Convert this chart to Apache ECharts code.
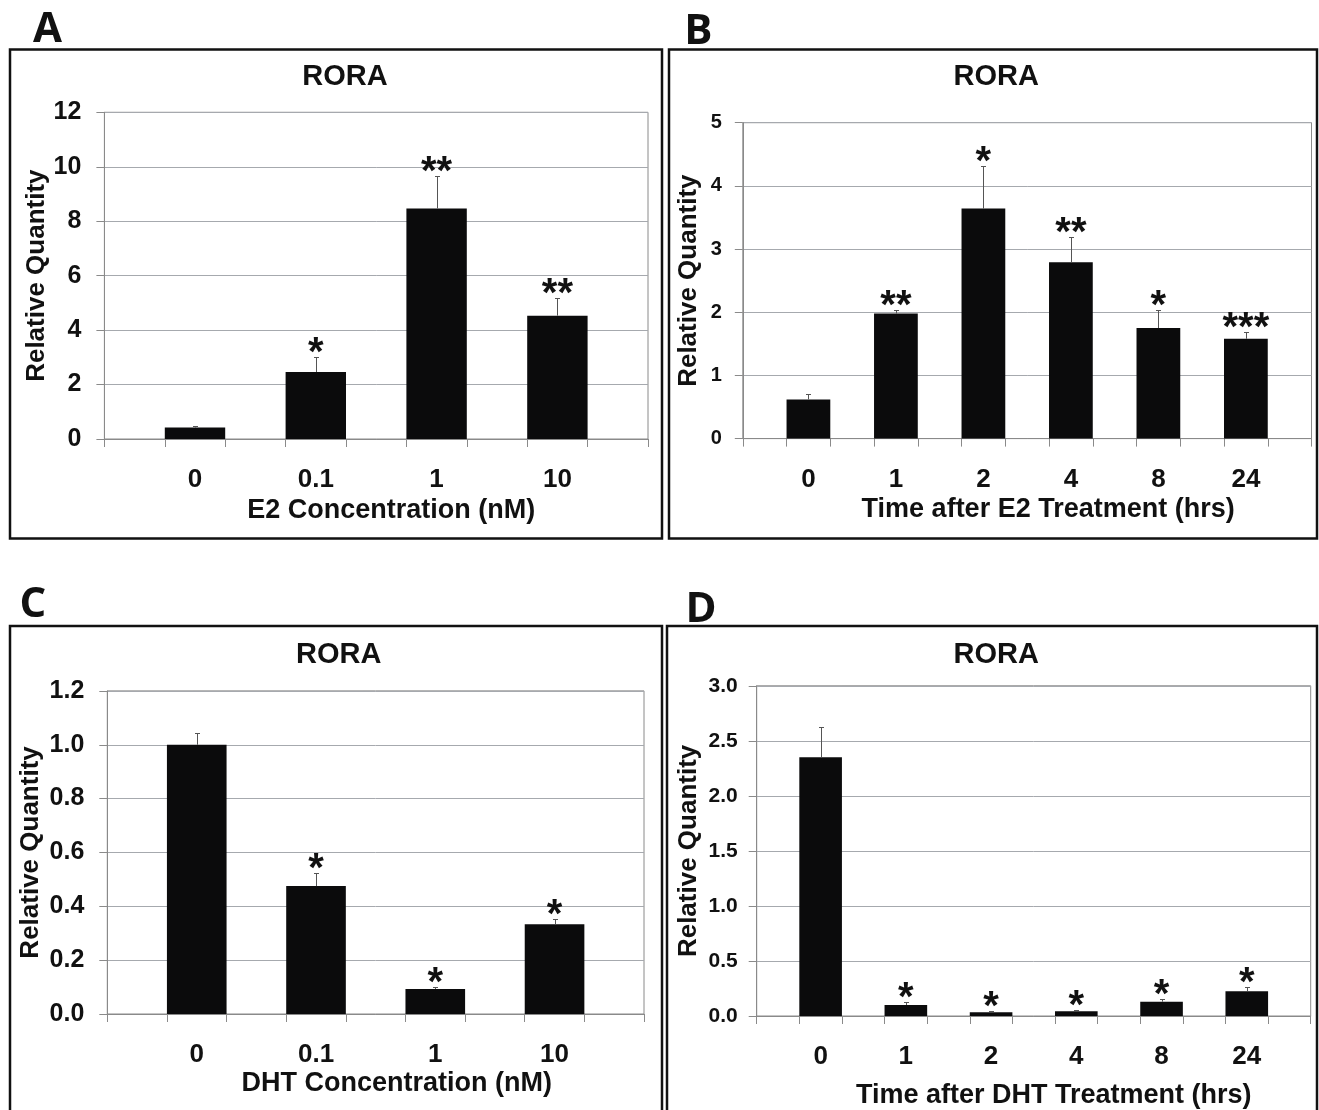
<!DOCTYPE html>
<html>
<head>
<meta charset="utf-8">
<script src="https://cdn.jsdelivr.net/npm/echarts@6/dist/echarts.min.js"></script>
<style>
html,body{margin:0;padding:0;background:#fff;}
#chart{width:1319px;height:1110px;}
</style>
</head>
<body>
<div id="chart"></div>
<script>
// ---- Data ----
const catsA = ['0', '0.1', '1', '10'];
const valsA = [0.42, 2.46, 8.47, 4.53];
const errA  = [0.06, 0.55, 1.19, 0.65];
const starsA = ['', '*', '**', '**'];

const catsB = ['0', '1', '2', '4', '8', '24'];
const valsB = [0.62, 1.98, 3.64, 2.79, 1.75, 1.58];
const errB  = [0.08, 0.05, 0.67, 0.40, 0.28, 0.10];
const starsB = ['', '**', '*', '**', '*', '***'];

const catsC = ['0', '0.1', '1', '10'];
const valsC = [1.00, 0.475, 0.093, 0.333];
const errC  = [0.045, 0.048, 0.007, 0.02];
const starsC = ['', '*', '*', '*'];

const catsD = ['0', '1', '2', '4', '8', '24'];
const valsD = [2.35, 0.10, 0.035, 0.043, 0.13, 0.225];
const errD  = [0.28, 0.025, 0.01, 0.012, 0.028, 0.037];
const starsD = ['', '*', '*', '*', '*', '*'];

const yAxisA = {min: 0, max: 12, interval: 2, decimals: 0};
const yAxisB = {min: 0, max: 5, interval: 1, decimals: 0};
const yAxisC = {min: 0, max: 1.2, interval: 0.2, decimals: 1};
const yAxisD = {min: 0, max: 3.0, interval: 0.5, decimals: 1};

const titleText = 'RORA';
const yName = 'Relative Quantity';
const xNameA = 'E2 Concentration (nM)';
const xNameB = 'Time after E2 Treatment (hrs)';
const xNameC = 'DHT Concentration (nM)';
const xNameD = 'Time after DHT Treatment (hrs)';
const panelLetters = ['A', 'B', 'C', 'D'];

// ---- Layout / styles ----
const FONT = '"Liberation Sans", Arial, sans-serif';
const AXIS_GRAY = '#8a8a8a';
const GRID_GRAY = '#a6a9ae';
const INK = '#111111';

const panels = [
  {cats: catsA, vals: valsA, err: errA, stars: starsA, y: yAxisA, xName: xNameA,
   grid: {left: 104.4, top: 112.3, width: 543.6, height: 326.7},
   yFont: 25, yMargin: 23, yNameGap: 49, xNameGap: 58, xNamePad: 30},
  {cats: catsB, vals: valsB, err: errB, stars: starsB, y: yAxisB, xName: xNameB,
   grid: {left: 742.8, top: 122.7, width: 568.7, height: 315.9},
   yFont: 20, yMargin: 21, yNameGap: 41, xNameGap: 57, xNamePad: 42},
  {cats: catsC, vals: valsC, err: errC, stars: starsC, y: yAxisC, xName: xNameC,
   grid: {left: 107.3, top: 690.9, width: 536.7, height: 323.1},
   yFont: 25, yMargin: 23, yNameGap: 63, xNameGap: 56, xNamePad: 42},
  {cats: catsD, vals: valsD, err: errD, stars: starsD, y: yAxisD, xName: xNameD,
   grid: {left: 756.7, top: 685.8, width: 554.0, height: 331.7},
   yFont: 21, yMargin: 19, yNameGap: 55, xNameGap: 66, xNamePad: 40}
];

// expand categories into half-slots: blank, cat, blank, cat, ..., blank
function expandCats(cats) {
  const out = [''];
  cats.forEach(c => { out.push(c); out.push(''); });
  return out;
}
function expandVals(vals) {
  const out = [null];
  vals.forEach(v => { out.push(v); out.push(null); });
  return out;
}

const grids = [], xAxes = [], yAxes = [], series = [];

panels.forEach((p, i) => {
  grids.push(Object.assign({show: true, borderColor: AXIS_GRAY, borderWidth: 1,
    backgroundColor: 'transparent', containLabel: false}, p.grid));
  xAxes.push({
    type: 'category', gridIndex: i, data: expandCats(p.cats), boundaryGap: true,
    axisLine: {show: true, lineStyle: {color: AXIS_GRAY, width: 1}},
    axisTick: {show: true, interval: 0, length: 8, lineStyle: {color: AXIS_GRAY}},
    axisLabel: {interval: 0, margin: 28, color: INK, fontFamily: FONT, fontWeight: 'bold', fontSize: 26},
    name: p.xName, nameLocation: 'middle', nameGap: p.xNameGap,
    nameTextStyle: {color: INK, fontFamily: FONT, fontWeight: 'bold', fontSize: 27,
      padding: [0, 0, 0, p.xNamePad]}
  });
  yAxes.push({
    type: 'value', gridIndex: i, min: p.y.min, max: p.y.max, interval: p.y.interval,
    axisLine: {show: true, lineStyle: {color: AXIS_GRAY, width: 1}},
    axisTick: {show: true, length: 8, lineStyle: {color: AXIS_GRAY}},
    splitLine: {show: true, lineStyle: {color: GRID_GRAY, width: 1}},
    axisLabel: {margin: p.yMargin, color: INK, fontFamily: FONT, fontWeight: 'bold', fontSize: p.yFont,
      formatter: v => v.toFixed(p.y.decimals)},
    name: yName, nameLocation: 'middle', nameGap: p.yNameGap,
    nameTextStyle: {color: INK, fontFamily: FONT, fontWeight: 'bold', fontSize: 26}
  });
  series.push({
    type: 'bar', xAxisIndex: i, yAxisIndex: i, data: expandVals(p.vals),
    barWidth: '100%', barGap: '0%', itemStyle: {color: '#0b0b0c'}, silent: true, z: 2
  });
  const stars = p.stars;
  series.push({
    type: 'custom', xAxisIndex: i, yAxisIndex: i, z: 3, silent: true,
    data: p.vals.map((v, k) => [2 * k + 1, v, p.err[k]]),
    renderItem: function (params, api) {
      const x = api.value(0), v = api.value(1), e = api.value(2);
      const top = api.coord([x, v + e]);
      const base = api.coord([x, v]);
      const cx = Math.round(top[0]) + 0.5;
      const ty = Math.round(top[1]) + 0.5;
      return {
        type: 'group',
        children: [
          {type: 'line', shape: {x1: cx, y1: base[1], x2: cx, y2: ty},
           style: {stroke: '#555', lineWidth: 1}},
          {type: 'line', shape: {x1: cx - 2.5, y1: ty, x2: cx + 2.5, y2: ty},
           style: {stroke: '#555', lineWidth: 1}},
          {type: 'text', style: {text: stars[params.dataIndex], x: top[0], y: top[1] - 3,
            align: 'center', verticalAlign: 'middle',
            font: 'bold 40px ' + FONT, fill: INK}}
        ]
      };
    }
  });
});

// frames, panel letters, titles
const frameStyle = {stroke: '#111', lineWidth: 2.5, fill: 'none'};
const frames = [
  {x: 10, y: 49.5, w: 652, h: 489},
  {x: 669, y: 49.5, w: 648, h: 489},
  {x: 10, y: 626, w: 652, h: 520},
  {x: 667, y: 626, w: 650, h: 520}
];
const letterPos = [[47.5, 31], [698.3, 33], [32.8, 606.5], [701, 611]];
const titlePos = [[345, 77.2], [996.3, 77.2], [338.8, 655], [996.3, 655]];

const graphics = [];
frames.forEach(f => graphics.push({type: 'rect', shape: {x: f.x, y: f.y, width: f.w, height: f.h},
  style: frameStyle, silent: true, z: 0}));
letterPos.forEach((p, i) => graphics.push({type: 'text', x: p[0], y: p[1] - 1,
  style: {text: panelLetters[i], align: 'center', verticalAlign: 'middle',
    font: 'bold 42px "Open Sans", "Noto Sans", sans-serif', fill: INK}}));
titlePos.forEach(p => graphics.push({type: 'text', x: p[0], y: p[1],
  style: {text: titleText, align: 'center', verticalAlign: 'middle',
    font: 'bold 29px ' + FONT, fill: INK}}));

const chart = echarts.init(document.getElementById('chart'), null, {renderer: 'canvas'});
chart.setOption({
  backgroundColor: '#ffffff',
  animation: false,
  grid: grids,
  xAxis: xAxes,
  yAxis: yAxes,
  series: series,
  graphic: graphics
});
</script>
</body>
</html>
